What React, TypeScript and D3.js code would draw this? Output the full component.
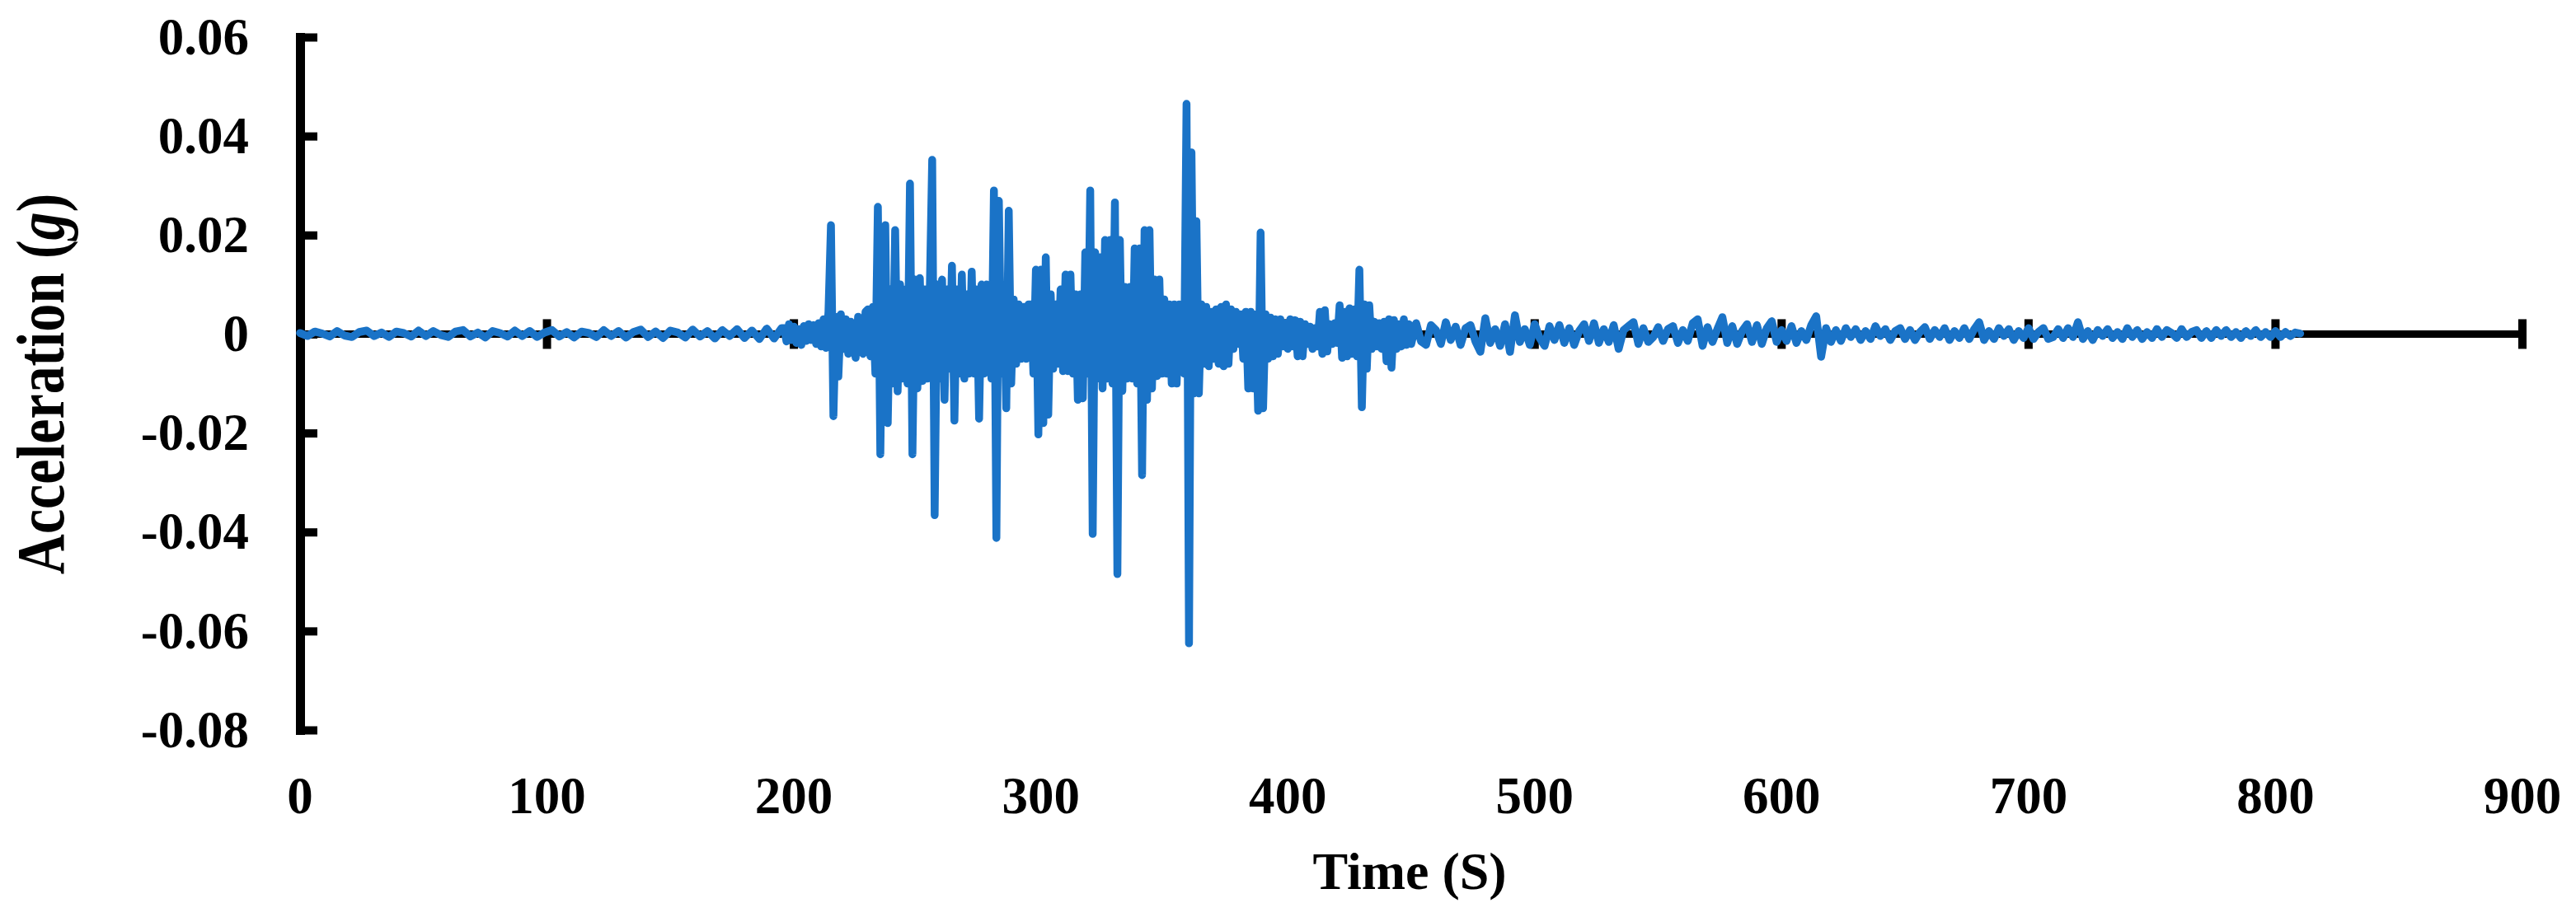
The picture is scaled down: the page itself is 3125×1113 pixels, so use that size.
import React, { Component } from "react"
import * as d3 from "d3"

// acceleration record, in g
// quiet part before the event, one reading every 3 s
const preStart = 0
const preStep = 3
const preEvent = [
    0.0002, -0.0004, 0.0005, 0.0001, -0.0005, 0.0006, -0.0003, -0.0006, 0.0004, 0.0007,
    -0.0004, 0.0003, -0.0006, 0.0005, 0.0002, -0.0005, 0.0007, -0.0004, 0.0006, -0.0002,
    -0.0006, 0.0005, 0.0008, -0.0005, 0.0003, -0.0007, 0.0006, 0.0002, -0.0005, 0.0007,
    -0.0004, 0.0006, -0.0006, 0.0003, 0.0008, -0.0005, 0.0004, -0.0007, 0.0005, 0.0002,
    -0.0006, 0.0008, -0.0004, 0.0006, -0.0007, 0.0004, 0.0009, -0.0006, 0.0005, -0.0008,
    0.0007, 0.0003, -0.0007, 0.0009, -0.0005, 0.0006, -0.0009, 0.0008, -0.0004, 0.0010,
    -0.0008, 0.0007, -0.0010, 0.0011, -0.0009, 0.0012
]

// strong motion, one reading every second from 196 s
const strongStart = 196
const strongStep = 1
const strongMotion = [
    0.0012, -0.0015, 0.0020, -0.0012, 0.0015, -0.0018, 0.0010, -0.0022, 0.0016, -0.0014, // 196
    0.0020, -0.0012, 0.0018, -0.0020, 0.0022, -0.0025, 0.0030, -0.0028, 0.0045, 0.0220, // 206
    -0.0166, 0.0035, -0.0086, 0.0040, -0.0030, 0.0030, -0.0040, 0.0025, -0.0015, -0.0048, // 216
    0.0035, -0.0030, -0.0040, 0.0045, 0.0050, -0.0045, 0.0055, -0.0080, 0.0257, -0.0243, // 226
    0.0150, 0.0220, -0.0180, 0.0090, -0.0100, 0.0210, -0.0116, 0.0100, -0.0090, 0.0090, // 236
    -0.0100, 0.0304, -0.0243, 0.0110, -0.0110, 0.0113, -0.0095, 0.0090, -0.0090, 0.0080, // 246
    0.0352, -0.0366, 0.0100, -0.0090, 0.0110, -0.0133, 0.0090, -0.0070, 0.0138, -0.0175, // 256
    0.0090, -0.0080, 0.0120, -0.0090, 0.0080, -0.0080, 0.0126, -0.0080, 0.0090, -0.0171, // 266
    0.0100, -0.0080, 0.0100, 0.0080, -0.0090, 0.0290, -0.0412, 0.0269, -0.0080, 0.0090, // 276
    -0.0150, 0.0249, -0.0100, 0.0070, -0.0060, 0.0060, -0.0050, 0.0055, -0.0050, 0.0060, // 286
    0.0060, -0.0080, 0.0130, -0.0203, 0.0130, -0.0180, 0.0155, -0.0163, 0.0080, -0.0070, // 296
    0.0060, -0.0060, 0.0090, -0.0075, 0.0120, -0.0075, 0.0120, -0.0080, 0.0080, -0.0133, // 306
    0.0080, -0.0130, 0.0165, -0.0080, 0.0290, -0.0404, 0.0165, -0.0090, 0.0155, -0.0110, // 316
    0.0190, -0.0090, 0.0190, -0.0100, 0.0266, -0.0485, 0.0190, -0.0115, 0.0095, -0.0090, // 326
    0.0095, -0.0090, 0.0173, -0.0100, 0.0173, -0.0285, 0.0210, -0.0133, 0.0210, -0.0110, // 336
    0.0110, -0.0085, 0.0110, -0.0080, 0.0070, -0.0080, 0.0060, -0.0100, 0.0060, -0.0100, // 346
    0.0060, -0.0070, -0.0080, 0.0465, -0.0625, 0.0367, -0.0120, 0.0228, -0.0120, 0.0060, // 356
    -0.0060, 0.0055, -0.0065, 0.0045, -0.0050, 0.0050, -0.0060, 0.0055, -0.0065, 0.0060, // 366
    -0.0060, 0.0050, -0.0030, 0.0045, -0.0020, 0.0040, -0.0050, 0.0045, -0.0110, 0.0045, // 376
    -0.0110, 0.0040, -0.0155, 0.0205, -0.0150, 0.0040, -0.0050, 0.0033, -0.0045, 0.0030, // 386
    -0.0040, 0.0030, -0.0025, 0.0022, -0.0030, 0.0030, -0.0025, 0.0028, -0.0045, 0.0025, // 396
    -0.0045, 0.0020, -0.0020, 0.0015, -0.0030, 0.0012, -0.0025, 0.0045, -0.0040, 0.0048, // 406
    -0.0035, 0.0020, -0.0020, 0.0022, -0.0018, 0.0058, -0.0048, 0.0045, -0.0045, 0.0052, // 416
    -0.0040, 0.0050, -0.0045, 0.0130, -0.0148, 0.0060, -0.0070, 0.0058, -0.0030, 0.0025, // 426
    -0.0025, 0.0022, -0.0030, 0.0025, -0.0055, 0.0030, -0.0068, 0.0028, -0.0030, 0.0020, // 436
    -0.0025, 0.0030, -0.0022, 0.0020, -0.0020 // 446
]

// coda, one reading every 2 s from 452 s
const codaStart = 452
const codaStep = 2
const coda = [
    0.0022, -0.0015, -0.0022, 0.0018, 0.0008, -0.0020, 0.0024, -0.0012, 0.0015, -0.0022, // 452
    0.0012, 0.0018, -0.0015, -0.0036, 0.0032, -0.0018, 0.0010, -0.0024, 0.0020, -0.0036, // 472
    0.0038, -0.0016, 0.0010, -0.0022, 0.0020, -0.0008, -0.0024, 0.0016, -0.0012, 0.0018, // 492
    -0.0018, 0.0012, -0.0022, 0.0006, 0.0020, -0.0014, 0.0022, -0.0018, 0.0010, -0.0016, // 512
    0.0018, -0.0030, 0.0008, 0.0016, 0.0024, -0.0020, 0.0012, -0.0016, -0.0006, 0.0014, // 532
    -0.0014, 0.0010, 0.0016, -0.0018, 0.0008, -0.0014, 0.0022, 0.0030, -0.0024, 0.0014, // 552
    -0.0016, 0.0010, 0.0034, -0.0018, 0.0016, -0.0020, 0.0006, 0.0020, -0.0016, 0.0018, // 572
    -0.0020, 0.0012, 0.0026, -0.0016, 0.0008, -0.0014, 0.0016, -0.0018, 0.0006, -0.0012, // 592
    0.0018, 0.0036, -0.0046, 0.0012, -0.0016, 0.0008, -0.0014, 0.0012, -0.0006, 0.0010, // 612
    -0.0012, 0.0006, -0.0010, 0.0016, -0.0004, 0.0010, -0.0012, 0.0006, 0.0012, -0.0010, // 632
    0.0008, -0.0012, 0.0004, 0.0014, -0.0010, 0.0008, -0.0006, 0.0012, -0.0012, 0.0006, // 652
    -0.0008, 0.0012, -0.0010, 0.0010, 0.0024, -0.0012, 0.0006, -0.0010, 0.0012, -0.0004, // 672
    0.0010, -0.0012, 0.0006, -0.0008, 0.0012, -0.0010, 0.0004, 0.0012, -0.0010, -0.0006, // 692
    0.0010, -0.0008, 0.0012, -0.0006, 0.0024, -0.0010, 0.0006, -0.0012, 0.0008, -0.0004, // 712
    0.0010, -0.0008, 0.0004, -0.0010, 0.0012, -0.0006, 0.0008, -0.0010, 0.0004, -0.0008, // 732
    0.0010, -0.0006, 0.0008, 0.0002, -0.0008, 0.0010, -0.0006, 0.0004, 0.0008, -0.0008, // 752
    0.0006, -0.0008, 0.0008, -0.0004, 0.0008, -0.0006, 0.0004, -0.0008, 0.0006, -0.0004, // 772
    0.0008, -0.0006, 0.0004, -0.0006, 0.0006, -0.0006, 0.0004, -0.0004, 0.0003, 0.0001 // 792
]

const xTicks = [0, 100, 200, 300, 400, 500, 600, 700, 800, 900]
const yTicks = [0.06, 0.04, 0.02, 0, -0.02, -0.04, -0.06, -0.08]

const xTitle = "Time (S)"
const yTitle = "Acceleration ("
const yUnit = "g"

const FONT = "'Liberation Serif', 'Times New Roman', serif"

class AccelChart extends Component<any> {
    componentDidMount() {
        const width = 3125
        const height = 1113
        const svg = d3.select("#" + this.props.id)
        svg.selectAll("*").remove()

        svg.append("rect").attr("width", width).attr("height", height).attr("fill", "#fff")

        const xScale = d3.scaleLinear().domain([0, 900]).range([364, 3060])
        const yScale = d3.scaleLinear().domain([-0.08, 0.06]).range([886, 45])

        // join the three pieces into one record of [time, acc]
        let data: [number, number][] = []
        preEvent.forEach((v, i) => data.push([preStart + i * preStep, v]))
        strongMotion.forEach((v, i) => data.push([strongStart + i * strongStep, v]))
        coda.forEach((v, i) => data.push([codaStart + i * codaStep, v]))

        // y axis, ticks point inwards, labels on the left
        const yAxis = d3.axisLeft(yScale)
            .tickValues(yTicks)
            .tickSizeInner(-21)
            .tickSizeOuter(0)
            .tickPadding(62)
            .tickFormat((d: any) => (d === 0 ? "0" : d.toFixed(2)))
        const gy = svg.append("g")
            .attr("transform", "translate(" + xScale(0) + ",0)")
            .call(yAxis)
            .attr("font-family", FONT)
            .attr("font-size", 63)
            .attr("font-weight", "bold")
        gy.select(".domain").attr("stroke", "#000").attr("stroke-width", 11).attr("stroke-linecap", "square")
        gy.selectAll(".tick line").attr("stroke", "#000").attr("stroke-width", 10)
        gy.selectAll(".tick text").attr("fill", "#000")

        // x axis sits on zero, labels are pushed down to the bottom
        const y0 = yScale(0)
        svg.append("line")
            .attr("x1", xScale(0))
            .attr("x2", xScale(900))
            .attr("y1", y0)
            .attr("y2", y0)
            .attr("stroke", "#000")
            .attr("stroke-width", 9)
        svg.append("g").selectAll("line")
            .data(xTicks.slice(1))
            .enter()
            .append("line")
            .attr("x1", (d) => xScale(d))
            .attr("x2", (d) => xScale(d))
            .attr("y1", y0 - 18)
            .attr("y2", y0 + 18)
            .attr("stroke", "#000")
            .attr("stroke-width", 10)
        svg.append("g").selectAll("text")
            .data(xTicks)
            .enter()
            .append("text")
            .attr("x", (d) => xScale(d))
            .attr("y", 987)
            .attr("text-anchor", "middle")
            .attr("font-family", FONT)
            .attr("font-size", 63)
            .attr("font-weight", "bold")
            .text((d) => d)

        // the record itself
        const linePath = d3.line<[number, number]>()
            .x((d) => xScale(d[0]))
            .y((d) => yScale(d[1]))
        svg.append("path")
            .attr("d", linePath(data))
            .attr("fill", "none")
            .attr("stroke", "#1A73C7")
            .attr("stroke-width", 9.5)
            .attr("stroke-linejoin", "round")
            .attr("stroke-linecap", "round")

        // titles
        svg.append("text")
            .attr("x", 1710)
            .attr("y", 1079)
            .attr("text-anchor", "middle")
            .attr("font-family", FONT)
            .attr("font-size", 64)
            .attr("font-weight", "bold")
            .text(xTitle)

        const yt = svg.append("text")
            .attr("transform", "translate(77,466) rotate(-90) scale(1,1.22)")
            .attr("text-anchor", "middle")
            .attr("font-family", FONT)
            .attr("font-size", 68)
            .attr("font-weight", "bold")
        yt.append("tspan").text(yTitle)
        yt.append("tspan").attr("font-style", "italic").text(yUnit)
        yt.append("tspan").text(")")
    }
    render() {
        return (
            <svg id={this.props.id} width={3125} height={1113}
                 style={{ position: "absolute", left: 0, top: 0, display: "block" }} />
        )
    }
}

export default function App() {
    return <AccelChart id="accel-chart" />
}
